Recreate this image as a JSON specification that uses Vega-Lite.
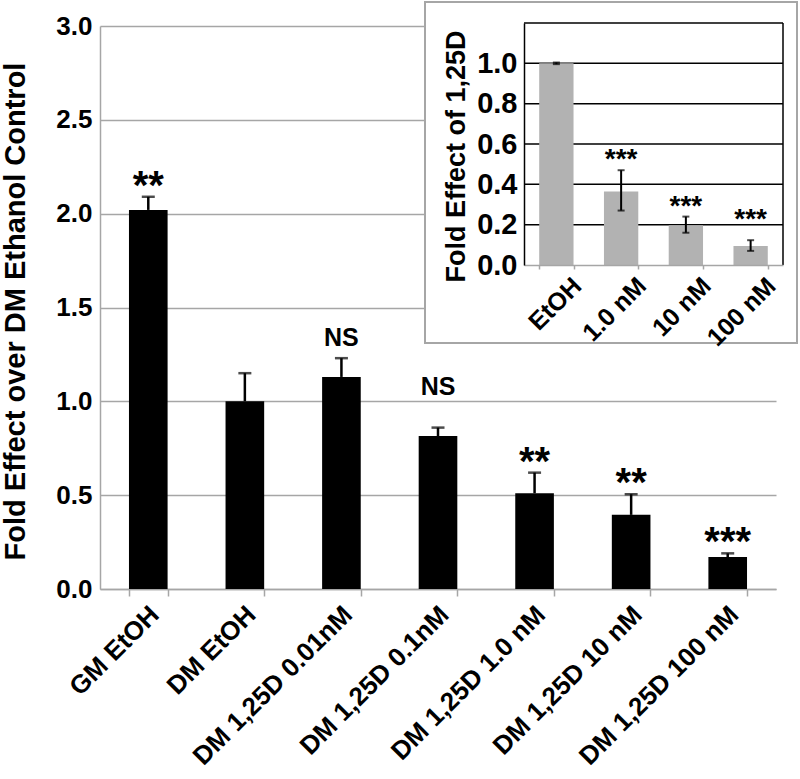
{
  "$schema": "https://vega.github.io/schema/vega-lite/v6.json",
  "width": 676,
  "height": 563,
  "autosize": {"type": "none"},
  "padding": {"left": 100, "top": 26, "right": 24, "bottom": 190},
  "background": "white",
  "config": {"font": "Liberation Sans", "view": {"stroke": null}},
  "datasets": {
    "main": [
      {"cond": "GM EtOH", "value": 2.02, "hi": 2.09, "sig": "**"},
      {"cond": "DM EtOH", "value": 1.0, "hi": 1.15, "sig": ""},
      {"cond": "DM 1,25D 0.01nM", "value": 1.13, "hi": 1.23, "sig": "NS"},
      {"cond": "DM 1,25D 0.1nM", "value": 0.815, "hi": 0.86, "sig": "NS"},
      {"cond": "DM 1,25D 1.0 nM", "value": 0.51, "hi": 0.62, "sig": "**"},
      {"cond": "DM 1,25D 10 nM", "value": 0.395, "hi": 0.505, "sig": "**"},
      {"cond": "DM 1,25D 100 nM", "value": 0.17, "hi": 0.19, "sig": "***"}
    ],
    "inset": [
      {"dose": "EtOH", "value": 1.0, "lo": 0.996, "hi": 1.004, "sig": ""},
      {"dose": "1.0 nM", "value": 0.365, "lo": 0.27, "hi": 0.47, "sig": "***"},
      {"dose": "10 nM", "value": 0.197, "lo": 0.16, "hi": 0.24, "sig": "***"},
      {"dose": "100 nM", "value": 0.094, "lo": 0.07, "hi": 0.123, "sig": "***"}
    ],
    "grid": [{"g": 0.2}, {"g": 0.4}, {"g": 0.6}, {"g": 0.8}, {"g": 1.0}, {"g": 1.2}]
  },
  "resolve": {"scale": {"x": "independent", "y": "independent"}, "axis": {"x": "independent", "y": "independent"}},
  "layer": [
    {
      "data": {"name": "main"},
      "encoding": {
        "x": {
          "field": "cond", "type": "nominal", "sort": null,
          "scale": {"paddingInner": 0.6, "paddingOuter": 0.3},
          "axis": {
            "orient": "bottom", "title": null, "labelAngle": -45, "labelAlign": "right", "labelBaseline": "top",
            "labelFontSize": 26, "labelFontWeight": "bold", "labelColor": "black", "labelOffset": -3, "labelPadding": 5,
            "labelLimit": 400, "tickBand": "extent", "ticks": true, "tickSize": 7, "tickColor": "#a6a6a6", "tickWidth": 1.5,
            "domainColor": "#a6a6a6", "domainWidth": 1.5, "grid": false
          }
        }
      },
      "layer": [
        {
          "mark": {"type": "bar", "color": "black"},
          "encoding": {
            "y": {
              "field": "value", "type": "quantitative",
              "scale": {"domain": [0, 3], "nice": false},
              "axis": {
                "orient": "left", "values": [0, 0.5, 1, 1.5, 2, 2.5, 3], "format": ".1f",
                "grid": true, "gridColor": "#a6a6a6", "gridWidth": 1.5,
                "domain": true, "domainColor": "#a6a6a6", "domainWidth": 1.5, "ticks": false,
                "labelFontSize": 26, "labelFontWeight": "bold", "labelColor": "black", "labelPadding": 8,
                "title": "Fold Effect over DM Ethanol Control", "titleFontSize": 29, "titleFontWeight": "bold",
                "titleColor": "black", "titleX": -76, "titleY": 285, "titleBaseline": "alphabetic", "titleLimit": 700
              }
            }
          }
        },
        {
          "mark": {"type": "rule", "color": "black", "strokeWidth": 2.5},
          "encoding": {
            "y": {"field": "value", "type": "quantitative", "scale": {"domain": [0, 3], "nice": false}},
            "y2": {"field": "hi"}
          }
        },
        {
          "mark": {"type": "tick", "color": "black", "size": 13, "thickness": 2.5},
          "encoding": {
            "y": {"field": "hi", "type": "quantitative", "scale": {"domain": [0, 3], "nice": false}}
          }
        },
        {
          "transform": [{"filter": "indexof(datum.sig, '*') >= 0"}],
          "mark": {"type": "text", "fontSize": 40, "fontWeight": "bold", "baseline": "alphabetic", "dy": 2, "color": "black"},
          "encoding": {
            "y": {"field": "hi", "type": "quantitative", "scale": {"domain": [0, 3], "nice": false}},
            "text": {"field": "sig"}
          }
        },
        {
          "transform": [{"filter": "datum.cond == 'DM 1,25D 0.01nM'"}],
          "mark": {"type": "text", "fontSize": 25, "fontWeight": "bold", "baseline": "alphabetic", "dy": -12, "color": "black"},
          "encoding": {
            "y": {"field": "hi", "type": "quantitative", "scale": {"domain": [0, 3], "nice": false}},
            "text": {"field": "sig"}
          }
        },
        {
          "transform": [{"filter": "datum.cond == 'DM 1,25D 0.1nM'"}],
          "mark": {"type": "text", "fontSize": 25, "fontWeight": "bold", "baseline": "alphabetic", "dy": -33, "color": "black"},
          "encoding": {
            "y": {"field": "hi", "type": "quantitative", "scale": {"domain": [0, 3], "nice": false}},
            "text": {"field": "sig"}
          }
        }
      ]
    },
    {
      "data": {"values": [{"f": 1}]},
      "mark": {"type": "rect", "fill": "white", "stroke": "#a6a6a6", "strokeWidth": 2},
      "encoding": {
        "x": {"datum": 0, "type": "quantitative", "scale": {"domain": [0, 1], "range": [325, 697], "nice": false, "zero": false}, "axis": null},
        "x2": {"datum": 1},
        "y": {"datum": 0, "type": "quantitative", "scale": {"domain": [0, 1], "range": [317, -24], "nice": false, "zero": false}, "axis": null},
        "y2": {"datum": 1}
      }
    },
    {
      "resolve": {"scale": {"x": "independent", "y": "shared"}, "axis": {"x": "independent", "y": "shared"}},
      "layer": [
        {
          "data": {"name": "grid"},
          "mark": {"type": "rule", "color": "black", "strokeWidth": 1.5},
          "encoding": {
            "x": {"datum": 0, "type": "quantitative", "scale": {"domain": [0, 1], "range": [424, 683], "nice": false, "zero": false}, "axis": null},
            "x2": {"datum": 1},
            "y": {"field": "g", "type": "quantitative", "scale": {"domain": [0, 1.2], "range": [239, -3], "nice": false}}
          }
        },
        {
          "data": {"values": [{"f": 1}]},
          "mark": {"type": "rule", "color": "black", "strokeWidth": 1.5},
          "encoding": {
            "x": {"datum": 1, "type": "quantitative", "scale": {"domain": [0, 1], "range": [424, 683], "nice": false, "zero": false}, "axis": null},
            "y": {"datum": 0, "type": "quantitative", "scale": {"domain": [0, 1.2], "range": [239, -3], "nice": false}},
            "y2": {"datum": 1.2}
          }
        },
        {
          "data": {"name": "inset"},
          "encoding": {
            "x": {
              "field": "dose", "type": "nominal", "sort": null,
              "scale": {"range": [424, 683], "paddingInner": 0.47, "paddingOuter": 0.235},
              "axis": {
                "orient": "bottom", "offset": -324, "title": null, "labelAngle": -45, "labelAlign": "right", "labelBaseline": "top",
                "labelFontSize": 25, "labelFontWeight": "bold", "labelColor": "black", "labelOffset": 12, "labelPadding": 4,
                "labelLimit": 300, "tickBand": "extent", "tickSize": 4, "tickColor": "#a6a6a6", "tickWidth": 1.5,
                "domainColor": "#a6a6a6", "domainWidth": 1.5, "grid": false, "zindex": 1
              }
            }
          },
          "layer": [
            {
              "mark": {"type": "bar", "color": "#b2b2b2"},
              "encoding": {
                "y": {
                  "field": "value", "type": "quantitative",
                  "scale": {"domain": [0, 1.2], "range": [239, -3], "nice": false},
                  "axis": {
                    "orient": "left", "offset": -424, "values": [0, 0.2, 0.4, 0.6, 0.8, 1.0], "format": ".1f",
                    "grid": false, "domain": true, "domainColor": "black", "domainWidth": 1.5, "ticks": false,
                    "labelFontSize": 29, "labelFontWeight": "bold", "labelColor": "black", "labelPadding": 7,
                    "title": "Fold Effect of 1,25D", "titleFontSize": 27, "titleFontWeight": "bold", "titleColor": "black",
                    "titleX": -60, "titleY": 130, "titleBaseline": "alphabetic", "titleLimit": 400, "zindex": 1
                  }
                }
              }
            },
            {
              "mark": {"type": "rule", "color": "black", "strokeWidth": 2},
              "encoding": {
                "y": {"field": "lo", "type": "quantitative", "scale": {"domain": [0, 1.2], "range": [239, -3], "nice": false}},
                "y2": {"field": "hi"}
              }
            },
            {
              "mark": {"type": "tick", "color": "black", "size": 7, "thickness": 2},
              "encoding": {
                "y": {"field": "lo", "type": "quantitative", "scale": {"domain": [0, 1.2], "range": [239, -3], "nice": false}}
              }
            },
            {
              "mark": {"type": "tick", "color": "black", "size": 7, "thickness": 2},
              "encoding": {
                "y": {"field": "hi", "type": "quantitative", "scale": {"domain": [0, 1.2], "range": [239, -3], "nice": false}}
              }
            },
            {
              "transform": [{"filter": "datum.dose == '1.0 nM' || datum.dose == '10 nM'"}],
              "mark": {"type": "text", "fontSize": 28, "fontWeight": "bold", "baseline": "alphabetic", "dy": -2, "color": "black"},
              "encoding": {
                "y": {"field": "hi", "type": "quantitative", "scale": {"domain": [0, 1.2], "range": [239, -3], "nice": false}},
                "text": {"field": "sig"}
              }
            },
            {
              "transform": [{"filter": "datum.dose == '100 nM'"}],
              "mark": {"type": "text", "fontSize": 28, "fontWeight": "bold", "baseline": "alphabetic", "dy": -12, "color": "black"},
              "encoding": {
                "y": {"field": "hi", "type": "quantitative", "scale": {"domain": [0, 1.2], "range": [239, -3], "nice": false}},
                "text": {"field": "sig"}
              }
            }
          ]
        }
      ]
    }
  ]
}
